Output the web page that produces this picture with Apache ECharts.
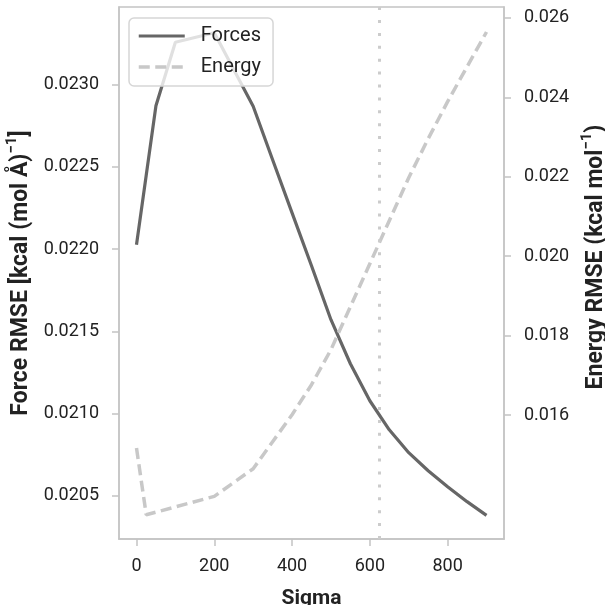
<!DOCTYPE html>
<html>
<head>
<meta charset="utf-8">
<script src="https://cdn.jsdelivr.net/npm/echarts@6/dist/echarts.min.js"></script>
<style>
html,body{margin:0;padding:0;background:#fff;}
#chart{width:605px;height:605px;}
</style>
</head>
<body>
<div id="chart"></div>
<script>
var sigma  = [0, 25, 50, 100, 200, 300, 350, 400, 450, 500, 550, 600, 650, 700, 750, 800, 850, 900];
var forces = [0.022027, 0.022450, 0.022872, 0.023259, 0.023316, 0.022869, 0.022544, 0.022221, 0.021899, 0.021571, 0.021303, 0.021078, 0.020901, 0.020762, 0.020652, 0.020555, 0.020464, 0.020381];
var energy = [0.015169, 0.013489, 0.013553, 0.013685, 0.013950, 0.014647, 0.015327, 0.016008, 0.016763, 0.017645, 0.018728, 0.019811, 0.020894, 0.021977, 0.022960, 0.023892, 0.024773, 0.025647];
var xTicks = [0, 200, 400, 600, 800];
var forceTicks = [0.0205, 0.0210, 0.0215, 0.0220, 0.0225, 0.0230];
var energyTicks = [0.016, 0.018, 0.020, 0.022, 0.024, 0.026];
var markerSigma = 623;

var forceData = sigma.map(function (s, i) { return [s, forces[i]]; });
var energyData = sigma.map(function (s, i) { return [s, energy[i]]; });

var FONT = 'Roboto';
var frameColor = '#c4c4c4';
var nameRich = {
  b: {fontFamily: FONT, fontSize: 23, fontWeight: 'bold', color: '#222', lineHeight: 28, verticalAlign: 'bottom'},
  s: {fontFamily: FONT, fontSize: 15, fontWeight: 'bold', color: '#222', lineHeight: 28, verticalAlign: 'top', padding: [0, 0, 10, 0]}
};

var chart = echarts.init(document.getElementById('chart'), null, {renderer: 'canvas'});
chart.setOption({
  animation: false,
  backgroundColor: '#ffffff',
  textStyle: {fontFamily: FONT},
  grid: {left: 119, right: 101, top: 7, bottom: 66, show: true, borderColor: frameColor, borderWidth: 1.5,
    backgroundColor: 'transparent', containLabel: false, outerBoundsMode: 'none'},
  legend: {
    show: true, orient: 'vertical', left: 129, top: 18, z: 10,
    padding: [8, 12, 9, 8], itemGap: 11, itemWidth: 46, itemHeight: 14,
    backgroundColor: 'rgba(255,255,255,0.8)', borderColor: '#d6d6d6', borderWidth: 1.5, borderRadius: 5,
    itemStyle: {opacity: 0},
    textStyle: {fontFamily: FONT, fontSize: 20, color: '#222', padding: [0, 0, 0, 11]},
    data: [
      {name: 'Forces', lineStyle: {width: 3.2, color: '#666666'}},
      {name: 'Energy', lineStyle: {width: 3.5, color: '#c8c8c8', type: [11, 5.5]}}
    ]
  },
  xAxis: {
    type: 'value', min: -45, max: 945,
    name: 'Sigma', nameLocation: 'middle', nameGap: 49,
    nameTextStyle: {fontFamily: FONT, fontSize: 21, fontWeight: 'bold', color: '#222'},
    axisLine: {show: true, onZero: false, lineStyle: {color: frameColor, width: 1.5}},
    axisTick: {show: true, inside: false, length: 7, lineStyle: {color: frameColor, width: 1.5}, customValues: xTicks},
    axisLabel: {fontFamily: FONT, fontSize: 18, color: '#222', margin: 18, customValues: xTicks,
      formatter: function (v) { return String(Math.round(v)); }},
    splitLine: {show: false}
  },
  yAxis: [{
    type: 'value', position: 'left', min: 0.020237, max: 0.023473,
    name: '{b|Force RMSE [kcal (mol Å)}{s|−1}{b|]}', nameLocation: 'middle', nameGap: 84, nameRotate: 90,
    nameTextStyle: {rich: nameRich},
    axisLine: {show: true, onZero: false, lineStyle: {color: frameColor, width: 1.5}},
    axisTick: {show: true, inside: false, length: 7, lineStyle: {color: frameColor, width: 1.5}, customValues: forceTicks},
    axisLabel: {fontFamily: FONT, fontSize: 18, color: '#222', margin: 20, customValues: forceTicks,
      formatter: function (v) { return v.toFixed(4); }},
    splitLine: {show: false}
  }, {
    type: 'value', position: 'right', min: 0.012877, max: 0.026277,
    name: '{b|Energy RMSE (kcal mol}{s|−1}{b|)}', nameLocation: 'middle', nameGap: 76, nameRotate: 90,
    nameTextStyle: {rich: nameRich, padding: [0, 0, 0, 32]},
    axisLine: {show: true, onZero: false, lineStyle: {color: frameColor, width: 1.5}},
    axisTick: {show: true, inside: false, length: 7, lineStyle: {color: frameColor, width: 1.5}, customValues: energyTicks},
    axisLabel: {fontFamily: FONT, fontSize: 18, color: '#222', margin: 20, customValues: energyTicks,
      formatter: function (v) { return v.toFixed(3); }},
    splitLine: {show: false}
  }],
  series: [{
    name: 'Forces', type: 'line', yAxisIndex: 0, data: forceData,
    symbol: 'none', showSymbol: false, smooth: false,
    itemStyle: {color: '#666666'},
    lineStyle: {color: '#666666', width: 3.2},
    markLine: {
      silent: true, symbol: 'none', label: {show: false},
      lineStyle: {color: '#cccccc', width: 3, type: [3, 9.9]},
      data: [{xAxis: markerSigma}]
    }
  }, {
    name: 'Energy', type: 'line', yAxisIndex: 1, data: energyData,
    symbol: 'none', showSymbol: false, smooth: false,
    itemStyle: {color: '#c8c8c8'},
    lineStyle: {color: '#c8c8c8', width: 3.5, type: [11, 5.5]}
  }]
});
</script>
</body>
</html>
